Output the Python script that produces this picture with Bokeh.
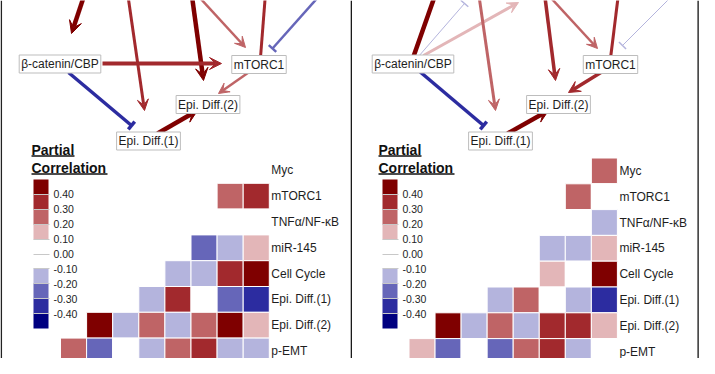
from bokeh.plotting import figure
from bokeh.models import (Range1d, ColumnDataSource, LinearColorMapper, ColorBar,
                          FixedTicker, PrintfTickFormatter, Arrow, VeeHead, TeeHead, Span,
                          AllLabels)
from bokeh.layouts import row
from bokeh.embed import file_html
from bokeh.resources import INLINE
from bokeh.core.properties import value

# ---------------- data ----------------
row_names = ["Myc", "mTORC1", "TNFα/NF-κB", "miR-145", "Cell Cycle",
             "Epi. Diff.(1)", "Epi. Diff.(2)", "p-EMT"]
col_names = ["Epi. Diff.(2)", "Epi. Diff.(1)", "Cell Cycle", "miR-145",
             "TNFα/NF-κB", "mTORC1", "Myc", "β-catenin/CBP"]

# lower-triangle partial correlations; row r holds columns (7-r) .. 7
left_vals = [
    [0.0],
    [0.25, 0.35],
    [0.0, 0.0, 0.0],
    [0.0, -0.25, -0.15, 0.15],
    [0.0, -0.15, -0.15, 0.35, 0.45],
    [0.0, -0.15, 0.35, 0.0, -0.25, -0.35],
    [0.45, -0.15, 0.25, -0.15, 0.25, 0.45, 0.15],
    [0.25, -0.25, 0.0, -0.15, 0.25, 0.35, -0.15, -0.15],
]
right_vals = [
    [0.25],
    [0.25, 0.0],
    [0.0, 0.0, -0.15],
    [0.0, -0.15, -0.15, 0.15],
    [0.0, 0.0, 0.15, 0.0, 0.45],
    [0.0, -0.15, 0.25, 0.0, -0.15, -0.35],
    [0.45, -0.15, 0.25, -0.15, 0.35, 0.35, 0.15],
    [0.15, -0.25, 0.0, -0.25, 0.25, 0.35, -0.15, 0.0],
]
cbar_ticks = [0.4, 0.3, 0.2, 0.1, 0.0, -0.1, -0.2, -0.3, -0.4]

node_names = ["β-catenin/CBP", "mTORC1", "Epi. Diff.(2)", "Epi. Diff.(1)"]
left_edge_vals = [0.45, 0.35, 0.45, 0.25, 0.35, -0.25, 0.35, -0.35, 0.25, 0.45]
right_edge_vals = [0.45, -0.15, 0.15, 0.25, 0.35, 0.25, 0.35, -0.15, -0.35, 0.35, 0.45]

# ---------------- styles / layout ----------------
palette = ["#000080", "#2c2ca0", "#6666b9", "#b4b4dd", "#ffffff",
           "#ffffff", "#e3b6b8", "#bf6466", "#a2292d", "#7f0000"]
FONT = "Liberation Sans"
TOP, BOTTOM = 0, 358

panels = [
    dict(fx0=0, fx1=352, grid_left=60.0, grid_top=157.0, cell=26.1, cell_y=25.8,
         vals=left_vals, cb_loc=(33, 30), title_x=31,
         nodes=[(59.5, 63.5), (258.5, 64), (207.5, 104), (148, 140.5)],
         edge_vals=left_edge_vals,
         edges=[(87, -15, 71, 33, "vee"), (126, -15, 144, 110, "vee"),
                (190, -15, 203, 80, "vee"), (188, -15, 245, 47, "vee"),
                (260, 57, 266, -20, "vee"), (328, -15, 272, 48, "tee"),
                (102, 63, 221, 63, "vee"), (68, 72, 131, 125, "tee"),
                (248, 72, 218, 93, "vee"), (157, 133, 197, 110, "vee")],
         widths=[4.5, 3, 4.5, 2.5, 3, 2.5, 4, 3.5, 2.5, 4.5],
         borders=[(0.8, "#222222", 1.5), (351.2, "#1a1a1a", 2)]),
    dict(fx0=352, fx1=699, grid_left=408.5, grid_top=157.5, cell=26.05, cell_y=25.8,
         vals=right_vals, cb_loc=(30, 30), title_x=378,
         nodes=[(412.5, 63.5), (610, 64), (558, 104), (500, 140.5)],
         edge_vals=right_edge_vals,
         edges=[(413, 56, 438, -15, "vee"), (418, 56, 464, 3, "tee"),
                (423, 55, 518, 2, "vee"), (477, -15, 495, 110, "vee"),
                (543, -15, 555, 80, "vee"), (539, -15, 597, 48, "vee"),
                (610, 58, 619, -15, "vee"), (682, -15, 622, 45, "tee"),
                (418, 70, 483, 125, "tee"), (602, 71, 568, 92, "vee"),
                (507, 133, 548, 110, "vee")],
         widths=[4.5, 1, 3, 3, 3.5, 2.5, 3, 1, 3.5, 3.5, 4.5],
         borders=[(697.8, "#4a4a4a", 2)]),
]


def color_for(v):
    i = int((v + 0.5) // 0.1)
    return palette[max(0, min(9, i))]


def make_panel(cfg):
    fx0, fx1, gl, gt = cfg["fx0"], cfg["fx1"], cfg["grid_left"], cfg["grid_top"]
    cs, csy = cfg["cell"], cfg["cell_y"]
    p = figure(width=fx1 - fx0, height=BOTTOM - TOP,
               x_range=Range1d(fx0, fx1), y_range=Range1d(BOTTOM, TOP),
               output_backend="svg", toolbar_location=None,
               x_axis_location=None, y_axis_location=None,
               min_border=0, outline_line_color=None)
    p.grid.visible = False
    p.extra_x_ranges = {"hx": Range1d((fx0 - gl) / cs - 0.5, (fx1 - gl) / cs - 0.5)}
    p.extra_y_ranges = {"hy": Range1d((BOTTOM - gt) / csy - 0.5, (TOP - gt) / csy - 0.5)}

    # ---- network edges ----
    for (x0, y0, x1, y1, kind), v, w in zip(cfg["edges"], cfg["edge_vals"], cfg["widths"]):
        c = color_for(v)
        if kind == "vee":
            head = VeeHead(size=8 + w, fill_color=c, line_color=c, line_width=1)
        else:
            head = TeeHead(size=10, line_color=c, line_width=max(w, 1.5))
        p.add_layout(Arrow(x_start=x0, y_start=y0, x_end=x1, y_end=y1, end=head,
                           line_color=c, line_width=w, level="underlay"))

    # ---- network nodes ----
    nx = [n[0] for n in cfg["nodes"]]
    ny = [n[1] for n in cfg["nodes"]]
    p.text(x=nx, y=ny, text=node_names, text_align="center", text_baseline="middle",
           text_font=value(FONT), text_font_size="12px", text_color="#1e1e1e",
           text_line_height=1.0, padding=2,
           background_fill_color="white", border_line_color="#bdbdbd", border_line_width=1)

    # ---- heatmap ----
    xs, ys, vs = [], [], []
    for r, vals in enumerate(cfg["vals"]):
        for k, v in enumerate(vals):
            xs.append(8 - len(vals) + k)
            ys.append(r)
            vs.append(v)
    mapper = LinearColorMapper(palette=palette, low=-0.5, high=0.5)
    src = ColumnDataSource(dict(x=xs, y=ys, v=vs))
    p.rect(x="x", y="y", width=1, height=1, source=src,
           x_range_name="hx", y_range_name="hy",
           fill_color={"field": "v", "transform": mapper},
           line_color="white", line_width=1)
    p.text(x=[7.5] * len(row_names), y=list(range(len(row_names))), text=row_names,
           x_range_name="hx", y_range_name="hy", x_offset=2,
           text_align="left", text_baseline="middle",
           text_font=value(FONT), text_font_size="12px", text_color="#1e1e1e")

    # ---- colour bar ----
    cb = ColorBar(color_mapper=mapper, ticker=FixedTicker(ticks=cbar_ticks),
                  formatter=PrintfTickFormatter(format="%.2f"),
                  major_label_policy=AllLabels(),
                  orientation="vertical", width=15, height=149,
                  location=cfg["cb_loc"], padding=0, margin=0, label_standoff=4,
                  major_label_text_font=FONT, major_label_text_font_size="10.5px",
                  major_label_text_color="#1e1e1e",
                  major_tick_line_color="#c8c8c8", major_tick_in=15, major_tick_out=1,
                  bar_line_color=None, border_line_color=None, background_fill_alpha=0)
    p.add_layout(cb, "center")

    # ---- legend title (bold, underlined) ----
    tx = cfg["title_x"]
    p.text(x=[tx, tx], y=[149, 167], text=["Partial", "Correlation"],
           text_align="left", text_baseline="middle",
           text_font=value(FONT), text_font_size="14px", text_font_style="bold",
           text_color="#111111")
    p.line(x=[tx, tx + 43], y=[155.5, 155.5], line_color="#111111", line_width=1.5)
    p.line(x=[tx, tx + 76], y=[173.5, 173.5], line_color="#111111", line_width=1.5)

    # ---- panel borders ----
    for bx, bc, bw in cfg["borders"]:
        p.add_layout(Span(location=bx, dimension="height", line_color=bc, line_width=bw))
    return p


figs = [make_panel(c) for c in panels]
layout = row(*figs, spacing=0)
open("out.html", "w").write(file_html(layout, INLINE))
